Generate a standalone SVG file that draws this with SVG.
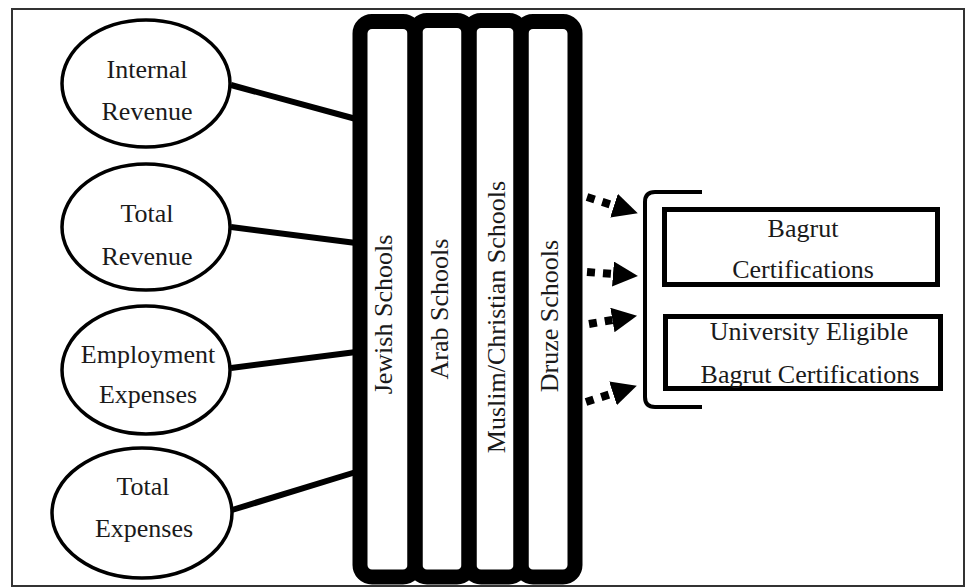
<svg xmlns="http://www.w3.org/2000/svg" width="966" height="588" viewBox="0 0 966 588">
<style>
  text { font-family: "Liberation Serif", "Times New Roman", serif; font-size: 26px; fill: #1a1a1a; text-anchor: middle; }
  .ell { fill: none; stroke: #000; stroke-width: 3.5; }
  .col { fill: none; stroke: #000; stroke-width: 15; }
  .box { fill: none; stroke: #000; stroke-width: 5; }
  .link { stroke: #000; stroke-width: 6; }
  .dot { stroke: #000; stroke-width: 8; stroke-dasharray: 8 8; fill: none; }
</style>
<defs>
  <marker id="ah" markerUnits="userSpaceOnUse" markerWidth="26" markerHeight="27" refX="0" refY="12.5" orient="auto">
    <path d="M0,0 L25,12.5 L0,25 z" fill="#000"/>
  </marker>
</defs>
<rect x="0" y="0" width="966" height="588" fill="#fff"/>
<rect x="12" y="9" width="952" height="577" fill="none" stroke="#333" stroke-width="2"/>

<g id="connectors">
  <line class="link" x1="231" y1="85" x2="356" y2="119"/>
  <line class="link" x1="231" y1="227" x2="356" y2="243"/>
  <line class="link" x1="231" y1="368" x2="356" y2="352"/>
  <line class="link" x1="232" y1="510" x2="356" y2="472"/>
  <line class="dot" x1="587" y1="197" x2="614" y2="205.7" marker-end="url(#ah)"/>
  <line class="dot" x1="587" y1="272" x2="613" y2="274" marker-end="url(#ah)"/>
  <line class="dot" x1="589" y1="324" x2="612.4" y2="320" marker-end="url(#ah)"/>
  <line class="dot" x1="586" y1="402" x2="613" y2="393.3" marker-end="url(#ah)"/>
</g>

<g id="internal-revenue">
  <ellipse class="ell" cx="146" cy="83.5" rx="84" ry="63.5"/>
  <text x="147" y="78">Internal</text>
  <text x="147" y="120">Revenue</text>
</g>
<g id="total-revenue">
  <ellipse class="ell" cx="146" cy="227" rx="84" ry="63"/>
  <text x="147" y="222">Total</text>
  <text x="147" y="265">Revenue</text>
</g>
<g id="employment-expenses">
  <ellipse class="ell" cx="146" cy="370" rx="84" ry="64"/>
  <text x="148" y="363">Employment</text>
  <text x="148" y="403">Expenses</text>
</g>
<g id="total-expenses">
  <ellipse class="ell" cx="142" cy="513" rx="90" ry="65"/>
  <text x="143" y="495">Total</text>
  <text x="144" y="537">Expenses</text>
</g>

<g id="jewish-schools">
  <rect class="col" x="360" y="21.5" width="55" height="555.5" rx="12"/>
  <text transform="translate(392,314.5) rotate(-90)">Jewish Schools</text>
</g>
<g id="arab-schools">
  <rect class="col" x="415" y="20.5" width="54" height="556.5" rx="12"/>
  <text transform="translate(448,309) rotate(-90)">Arab Schools</text>
</g>
<g id="muslim-christian-schools">
  <rect class="col" x="469" y="20.5" width="52" height="556.5" rx="12"/>
  <text transform="translate(505,317) rotate(-90)">Muslim/Christian Schools</text>
</g>
<g id="druze-schools">
  <rect class="col" x="521" y="21.5" width="54" height="555.5" rx="12"/>
  <text transform="translate(558,316) rotate(-90)">Druze Schools</text>
</g>

<g id="bracket">
  <path d="M702,192 L655,192 Q645,192 645,202 L645,397 Q645,407 655,407 L702,407" fill="none" stroke="#000" stroke-width="4"/>
</g>
<g id="bagrut-certifications">
  <rect class="box" x="664.5" y="209.5" width="273" height="75"/>
  <text x="803" y="237">Bagrut</text>
  <text x="803" y="278">Certifications</text>
</g>
<g id="university-eligible">
  <rect class="box" x="665.5" y="316.5" width="275" height="72"/>
  <text x="809" y="340">University Eligible</text>
  <text x="810" y="383">Bagrut Certifications</text>
</g>
</svg>
